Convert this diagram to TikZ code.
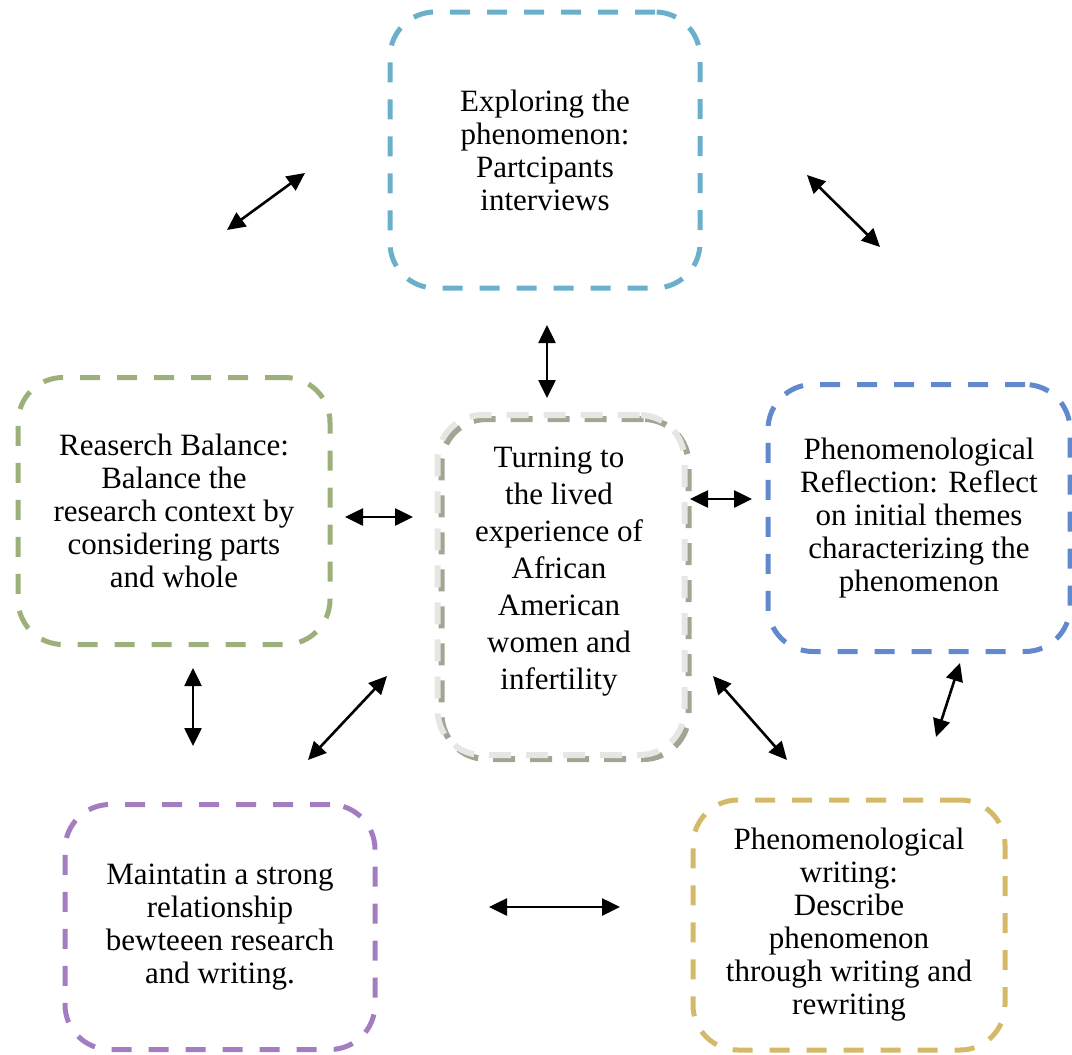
\documentclass[tikz,border=0pt]{standalone}
\usepackage{fontspec}
\setmainfont{Liberation Serif}
\usetikzlibrary{arrows.meta}

\definecolor{cTop}{RGB}{106,176,202}
\definecolor{cLeft}{RGB}{156,176,124}
\definecolor{cRight}{RGB}{98,136,206}
\definecolor{cBL}{RGB}{164,124,192}
\definecolor{cBR}{RGB}{212,186,104}
\definecolor{cCenter}{RGB}{230,230,228}
\definecolor{cShadow}{RGB}{164,164,146}

\tikzset{
  stagebox/.style={draw=#1, line width=5pt, rounded corners=45pt,
    dash pattern=on 20pt off 17pt, align=center, inner sep=0pt,
    font=\fontsize{31}{33}\selectfont},
  linkarrow/.style={{Triangle[length=18pt,width=17pt]}-{Triangle[length=18pt,width=17pt]},
    line width=2.6pt, black},
}

\begin{document}
\begin{tikzpicture}[x=1pt,y=-1pt]
  \useasboundingbox (0,0) rectangle (1072,1055);

  % outer stages
  \node[stagebox=cTop, minimum width=310pt, minimum height=276pt] (top) at (545,150)
    {Exploring the\\phenomenon:\\Partcipants\\interviews};
  \node[stagebox=cLeft, minimum width=312pt, minimum height=267pt] (left) at (174,511)
    {Reaserch Balance:\\Balance the\\research context by\\considering parts\\and whole};
  \node[stagebox=cRight, minimum width=302pt, minimum height=267pt] (right) at (919,518)
    {Phenomenological\\Reflection: Reflect\\on initial themes\\characterizing the\\phenomenon};
  \node[stagebox=cBL, minimum width=310pt, minimum height=245pt] (bl) at (220,927)
    {Maintatin a strong\\relationship\\bewteeen research\\and writing.};
  \node[stagebox=cBR, minimum width=312pt, minimum height=250pt] (br) at (849,925)
    {Phenomenological\\writing:\\Describe\\phenomenon\\through writing and\\rewriting};

  % central stage: shadow layer beneath a light dashed outline
  \node[stagebox=cShadow, line width=6pt, dash pattern=on 22pt off 15pt,
    minimum width=247pt, minimum height=340pt] (centershadow) at (565,589) {};
  \node[stagebox=cCenter, line width=6pt, dash pattern=on 22pt off 15pt,
    minimum width=247pt, minimum height=340pt] (center) at (561,585) {};
  \node[align=center, font=\fontsize{31}{37}\selectfont] (centertext) at (559,572)
    {Turning to\\the lived\\experience of\\African\\American\\women and\\infertility};

  % arrow end points
  \coordinate (a1s) at (227,230);  \coordinate (a1e) at (305,173);
  \coordinate (a2s) at (807,175);  \coordinate (a2e) at (880,247);
  \coordinate (a3s) at (547,325);  \coordinate (a3e) at (547,398);
  \coordinate (a4s) at (345,517);  \coordinate (a4e) at (413,517);
  \coordinate (a5s) at (690,499);  \coordinate (a5e) at (752,499);
  \coordinate (a6s) at (193,668);  \coordinate (a6e) at (193,746);
  \coordinate (a7s) at (308,760);  \coordinate (a7e) at (387,676);
  \coordinate (a8s) at (713,676);  \coordinate (a8e) at (787,760);
  \coordinate (a9s) at (960,663);  \coordinate (a9e) at (936,737);
  \coordinate (a10s) at (489,907); \coordinate (a10e) at (620,907);

  % two-way links
  \draw[linkarrow] (a1s) -- (a1e);
  \draw[linkarrow] (a2s) -- (a2e);
  \draw[linkarrow] (a3s) -- (a3e);
  \draw[linkarrow] (a4s) -- (a4e);
  \draw[linkarrow] (a5s) -- (a5e);
  \draw[linkarrow] (a6s) -- (a6e);
  \draw[linkarrow] (a7s) -- (a7e);
  \draw[linkarrow] (a8s) -- (a8e);
  \draw[linkarrow] (a9s) -- (a9e);
  \draw[linkarrow] (a10s) -- (a10e);
\end{tikzpicture}
\end{document}
